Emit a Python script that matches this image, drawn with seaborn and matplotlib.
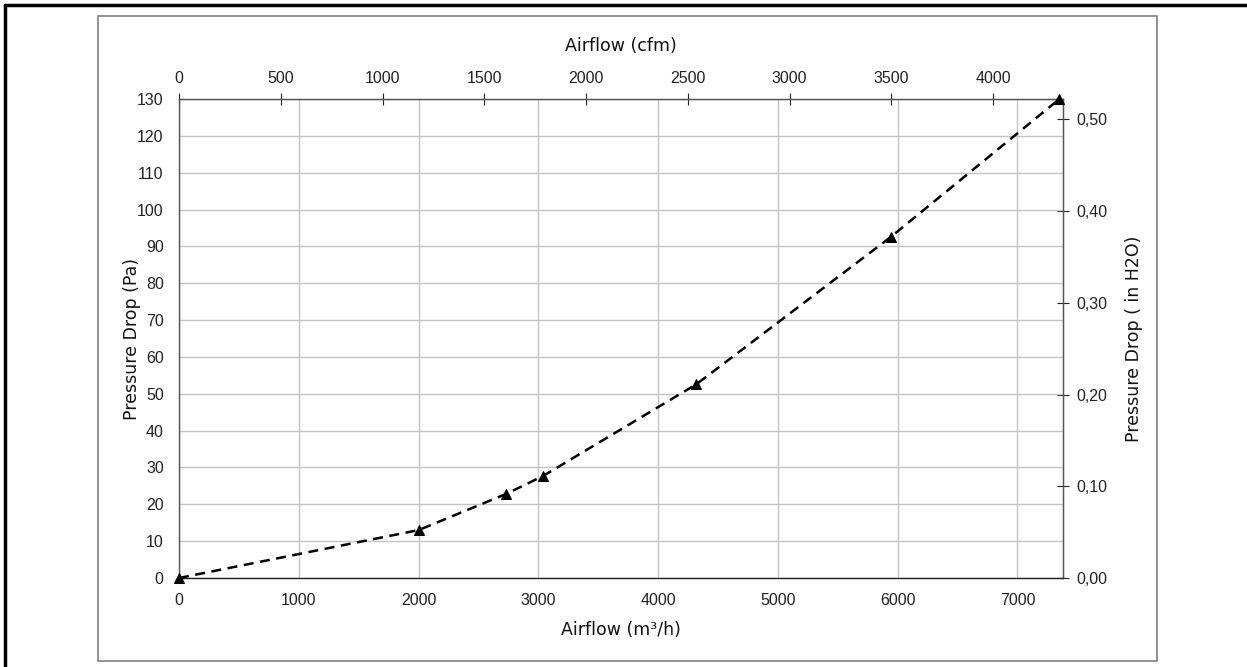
import matplotlib
matplotlib.use("Agg")
import matplotlib.pyplot as plt
import seaborn as sns
import pandas as pd
from matplotlib.patches import Rectangle
from matplotlib.lines import Line2D
from matplotlib.ticker import FuncFormatter

# Data
airflow_m3h = [0, 2000, 2730, 3040, 4320, 5940, 7350]
pressure_pa = [0, 13, 22.8, 27.7, 52.6, 92.5, 130]

x_ticks = [0, 1000, 2000, 3000, 4000, 5000, 6000, 7000]
y_ticks = list(range(0, 131, 10))
cfm_ticks = [0, 500, 1000, 1500, 2000, 2500, 3000, 3500, 4000]
inh2o_ticks = [0.0, 0.1, 0.2, 0.3, 0.4, 0.5]

M3H_PER_CFM = 1.699
PA_PER_INH2O = 249.0

sns.set_style("white")
plt.rcParams["font.family"] = ["Liberation Sans", "DejaVu Sans"]

TITLE_FONT = dict(family=["DejaVu Sans"], fontsize=12.5, color="#111111")
TICK_SIZE = 11.5

fig = plt.figure(figsize=(12.47, 6.67), dpi=100)
ax = fig.add_axes([179 / 1247, 1 - 578 / 667, (1063 - 179) / 1247, (578 - 99) / 667])

df = pd.DataFrame({"x": airflow_m3h, "y": pressure_pa})
sns.lineplot(data=df, x="x", y="y", ax=ax, color="black", linewidth=1.8,
             linestyle=(0, (4, 2.6)), marker="^", markersize=7,
             markeredgecolor="black", markerfacecolor="black", zorder=5, clip_on=False)

ax.set_xlim(0, 7380)
ax.set_ylim(0, 130)
ax.set_xticks(x_ticks)
ax.set_yticks(y_ticks)
ax.grid(True, color="#c4c4c4", linewidth=1.0)
ax.set_axisbelow(True)
for s in ax.spines.values():
    s.set_visible(True)
    s.set_color("#555555")
    s.set_linewidth(1.0)
ax.spines["bottom"].set_color("#222222")

ax.tick_params(axis="both", which="major", labelsize=TICK_SIZE, colors="#222222",
               direction="out", length=4, width=0.8)
ax.tick_params(axis="x", pad=6.5)
ax.tick_params(axis="y", pad=7)
ax.set_xlabel("Airflow (m³/h)", labelpad=10, **TITLE_FONT)
ax.set_ylabel("Pressure Drop (Pa)", labelpad=-3, **TITLE_FONT)

secx = ax.secondary_xaxis("top", functions=(lambda v: v / M3H_PER_CFM, lambda v: v * M3H_PER_CFM))
secx.set_xticks(cfm_ticks)
secx.tick_params(direction="inout", length=9, width=0.8, labelsize=TICK_SIZE, colors="#222222", pad=5)
secx.set_xlabel("Airflow (cfm)", labelpad=14, **TITLE_FONT)

secy = ax.secondary_yaxis("right", functions=(lambda v: v / PA_PER_INH2O, lambda v: v * PA_PER_INH2O))
secy.set_yticks(inh2o_ticks)
secy.yaxis.set_major_formatter(FuncFormatter(lambda v, p: f"{v:.2f}".replace(".", ",")))
secy.tick_params(direction="inout", length=9, width=0.8, labelsize=TICK_SIZE, colors="#222222", pad=5)
secy.set_ylabel("Pressure Drop ( in H2O)", labelpad=13, **TITLE_FONT)

# Frames
fig.add_artist(Rectangle((98 / 1247, 1 - 661 / 667), (1157 - 98) / 1247, (661 - 16) / 667,
                         transform=fig.transFigure, fill=False, edgecolor="#808080", linewidth=1.2))
fig.add_artist(Line2D([5 / 1247, 5 / 1247], [0, 1 - 5 / 667], transform=fig.transFigure,
                      color="black", linewidth=2.5))
fig.add_artist(Line2D([5 / 1247, 1], [1 - 5 / 667, 1 - 5 / 667], transform=fig.transFigure,
                      color="black", linewidth=2.5))

fig.savefig("out.png", dpi=100)
